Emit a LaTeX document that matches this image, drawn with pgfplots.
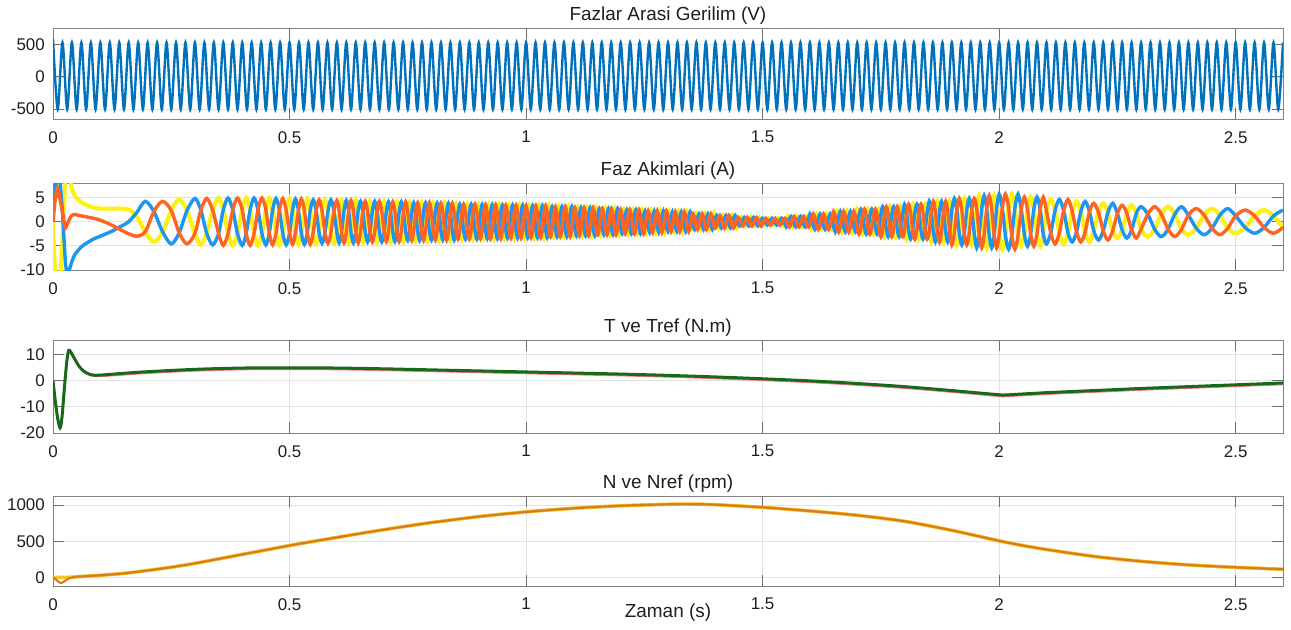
\documentclass[border=0pt]{standalone}
\usepackage{pgfplots}
\usepackage{pgfplotstable}
\pgfplotsset{compat=1.18}
\usepackage{fontspec}
\setmainfont{Liberation Sans}

\definecolor{voltblue}{RGB}{0,114,189}
\definecolor{curblue}{RGB}{28,150,240}
\definecolor{curorange}{RGB}{255,100,35}
\definecolor{curyellow}{RGB}{255,240,20}
\definecolor{tgreen}{RGB}{25,105,25}
\definecolor{tpink}{RGB}{240,120,140}
\definecolor{norange}{RGB}{217,126,20}
\definecolor{nyellow}{RGB}{245,195,40}
\definecolor{boxgray}{RGB}{130,130,130}
\definecolor{tickgray}{RGB}{110,110,110}
\definecolor{gridgray}{RGB}{226,226,226}
\definecolor{labgray}{RGB}{30,30,30}

\pgfplotsset{
  mlab/.style={
    scale only axis, width=1230bp, anchor=south west,
    xmin=0, xmax=2.6,
    xtick={0,0.5,1,1.5,2,2.5}, xticklabels={0,0.5,1,1.5,2,2.5},
    grid=major, major grid style={draw=gridgray, line width=0.7bp},
    axis line style={draw=boxgray, line width=0.8bp},
    tick style={draw=tickgray, line width=0.8bp},
    major tick length=11bp, tick align=inside,
    /pgf/number format/assume math mode=true,
    ticklabel style={font=\fontsize{17}{20}\selectfont, text=labgray},
    xticklabel style={anchor=north, inner sep=0pt, yshift=-12bp},
    yticklabel style={anchor=east, inner sep=0pt, xshift=-8bp},
    title style={font=\fontsize{19}{22}\selectfont, text=labgray, at={(0.5,1)}, anchor=base, yshift=2bp, inner sep=0pt},
  }
}

\pgfplotstableread{
t b o y
0.000 0 0 0
0.004 6 4 -10
0.010 10.5 7 -17.5
0.015 8 4.5 -12.5
0.020 2 2 -4
0.026 -8 -1.2 9.2
0.030 -10.5 -0.5 11
0.035 -9.8 0.6 9.2
0.040 -8.2 1.3 6.9
0.045 -7.0 1.5 5.5
0.050 -6.3 1.4 4.9
0.060 -5.2 1.2 4.0
0.070 -4.5 1.0 3.5
0.080 -3.9 0.8 3.1
0.090 -3.4 0.6 2.8
0.100 -3.0 0.3 2.7
0.115 -2.4 -0.3 2.7
0.130 -1.7 -1.0 2.7
0.145 -0.9 -1.8 2.7
0.160 0.0 -2.5 2.5
0.177 1.9 -3.0 1.1
0.1950 4.2 -2.1 -2.1
0.2133 2.1 2.1 -4.2
0.2317 -2.1 4.2 -2.1
0.2500 -4.6 2.3 2.3
0.2667 -2.3 -2.3 4.6
0.2833 2.3 -4.6 2.3
0.3000 4.8 -2.4 -2.4
0.3125 2.4 2.4 -4.8
0.3250 -2.4 4.8 -2.4
0.3375 -4.8 2.4 2.4
0.3500 -2.45 -2.45 4.9
0.3600 2.45 -4.9 2.45
0.3700 4.9 -2.45 -2.45
0.3800 2.45 2.45 -4.9
0.3900 -2.45 4.9 -2.45
0.4000 -4.9 2.45 2.45
0.4083 -2.45 -2.45 4.9
0.4167 2.45 -4.9 2.45
0.4250 4.9 -2.45 -2.45
0.4333 2.45 2.45 -4.9
0.4417 -2.45 4.9 -2.45
0.4500 -4.8 2.4 2.4
0.4571 -2.4 -2.4 4.8
0.4643 2.4 -4.8 2.4
0.4714 4.8 -2.4 -2.4
0.4786 2.4 2.4 -4.8
0.4857 -2.4 4.8 -2.4
0.4929 -4.8 2.4 2.4
0.5000 -2.35 -2.35 4.7
0.5063 2.35 -4.7 2.35
0.5125 4.7 -2.35 -2.35
0.5188 2.35 2.35 -4.7
0.5250 -2.35 4.7 -2.35
0.5313 -4.7 2.35 2.35
0.5375 -2.35 -2.35 4.7
0.5438 2.35 -4.7 2.35
0.5500 4.5 -2.25 -2.25
0.5563 2.25 2.25 -4.5
0.5625 -2.25 4.5 -2.25
0.5688 -4.5 2.25 2.25
0.5750 -2.25 -2.25 4.5
0.5813 2.25 -4.5 2.25
0.5875 4.5 -2.25 -2.25
0.5938 2.25 2.25 -4.5
0.600 -2.2 4.4 -2.2
0.605 -4.4 2.2 2.2
0.610 -2.2 -2.2 4.4
0.615 2.2 -4.4 2.2
0.620 4.4 -2.2 -2.2
0.625 2.2 2.2 -4.4
0.630 -2.2 4.4 -2.2
0.635 -4.4 2.2 2.2
0.640 -2.2 -2.2 4.4
0.645 2.2 -4.4 2.2
0.650 4.2 -2.1 -2.1
0.655 2.1 2.1 -4.2
0.660 -2.1 4.2 -2.1
0.665 -4.2 2.1 2.1
0.670 -2.1 -2.1 4.2
0.675 2.1 -4.2 2.1
0.680 4.2 -2.1 -2.1
0.685 2.1 2.1 -4.2
0.690 -2.1 4.2 -2.1
0.695 -4.2 2.1 2.1
0.7000 -2.05 -2.05 4.1
0.7045 2.05 -4.1 2.05
0.7091 4.1 -2.05 -2.05
0.7136 2.05 2.05 -4.1
0.7182 -2.05 4.1 -2.05
0.7227 -4.1 2.05 2.05
0.7273 -2.05 -2.05 4.1
0.7318 2.05 -4.1 2.05
0.7364 4.1 -2.05 -2.05
0.7409 2.05 2.05 -4.1
0.7455 -2.05 4.1 -2.05
0.7500 -3.9 1.95 1.95
0.7542 -1.95 -1.95 3.9
0.7583 1.95 -3.9 1.95
0.7625 3.9 -1.95 -1.95
0.7667 1.95 1.95 -3.9
0.7708 -1.95 3.9 -1.95
0.7750 -3.9 1.95 1.95
0.7792 -1.95 -1.95 3.9
0.7833 1.95 -3.9 1.95
0.7875 3.9 -1.95 -1.95
0.7917 1.95 1.95 -3.9
0.7958 -1.95 3.9 -1.95
0.800 -3.8 1.9 1.9
0.804 -1.9 -1.9 3.8
0.808 1.9 -3.8 1.9
0.812 3.8 -1.9 -1.9
0.816 1.9 1.9 -3.8
0.820 -1.9 3.8 -1.9
0.824 -3.8 1.9 1.9
0.828 -1.9 -1.9 3.8
0.832 1.9 -3.8 1.9
0.836 3.8 -1.9 -1.9
0.840 1.9 1.9 -3.8
0.844 -1.9 3.8 -1.9
0.848 -3.8 1.9 1.9
0.852 -1.8 -1.8 3.6
0.856 1.8 -3.6 1.8
0.860 3.6 -1.8 -1.8
0.864 1.8 1.8 -3.6
0.868 -1.8 3.6 -1.8
0.872 -3.6 1.8 1.8
0.876 -1.8 -1.8 3.6
0.880 1.8 -3.6 1.8
0.884 3.6 -1.8 -1.8
0.888 1.8 1.8 -3.6
0.892 -1.8 3.6 -1.8
0.896 -3.6 1.8 1.8
0.9000 -1.75 -1.75 3.5
0.9036 1.75 -3.5 1.75
0.9071 3.5 -1.75 -1.75
0.9107 1.75 1.75 -3.5
0.9143 -1.75 3.5 -1.75
0.9179 -3.5 1.75 1.75
0.9214 -1.75 -1.75 3.5
0.9250 1.75 -3.5 1.75
0.9286 3.5 -1.75 -1.75
0.9321 1.75 1.75 -3.5
0.9357 -1.75 3.5 -1.75
0.9393 -3.5 1.75 1.75
0.9429 -1.75 -1.75 3.5
0.9464 1.75 -3.5 1.75
0.9500 3.4 -1.7 -1.7
0.9536 1.7 1.7 -3.4
0.9571 -1.7 3.4 -1.7
0.9607 -3.4 1.7 1.7
0.9643 -1.7 -1.7 3.4
0.9679 1.7 -3.4 1.7
0.9714 3.4 -1.7 -1.7
0.9750 1.7 1.7 -3.4
0.9786 -1.7 3.4 -1.7
0.9821 -3.4 1.7 1.7
0.9857 -1.7 -1.7 3.4
0.9893 1.7 -3.4 1.7
0.9929 3.4 -1.7 -1.7
0.9964 1.7 1.7 -3.4
1.0000 -1.65 3.3 -1.65
1.0034 -3.3 1.65 1.65
1.0069 -1.65 -1.65 3.3
1.0103 1.65 -3.3 1.65
1.0138 3.3 -1.65 -1.65
1.0172 1.65 1.65 -3.3
1.0207 -1.65 3.3 -1.65
1.0241 -3.3 1.65 1.65
1.0276 -1.65 -1.65 3.3
1.0310 1.65 -3.3 1.65
1.0345 3.3 -1.65 -1.65
1.0379 1.65 1.65 -3.3
1.0414 -1.65 3.3 -1.65
1.0448 -3.3 1.65 1.65
1.0483 -1.65 -1.65 3.3
1.0517 1.55 -3.1 1.55
1.0552 3.1 -1.55 -1.55
1.0586 1.55 1.55 -3.1
1.0621 -1.55 3.1 -1.55
1.0655 -3.1 1.55 1.55
1.0690 -1.55 -1.55 3.1
1.0724 1.55 -3.1 1.55
1.0759 3.1 -1.55 -1.55
1.0793 1.55 1.55 -3.1
1.0828 -1.55 3.1 -1.55
1.0862 -3.1 1.55 1.55
1.0897 -1.55 -1.55 3.1
1.0931 1.55 -3.1 1.55
1.0966 3.1 -1.55 -1.55
1.1000 1.45 1.45 -2.9
1.1032 -1.45 2.9 -1.45
1.1065 -2.9 1.45 1.45
1.1097 -1.45 -1.45 2.9
1.1129 1.45 -2.9 1.45
1.1161 2.9 -1.45 -1.45
1.1194 1.45 1.45 -2.9
1.1226 -1.45 2.9 -1.45
1.1258 -2.9 1.45 1.45
1.1290 -1.45 -1.45 2.9
1.1323 1.45 -2.9 1.45
1.1355 2.9 -1.45 -1.45
1.1387 1.45 1.45 -2.9
1.1419 -1.45 2.9 -1.45
1.1452 -2.9 1.45 1.45
1.1484 -1.45 -1.45 2.9
1.1516 1.35 -2.7 1.35
1.1548 2.7 -1.35 -1.35
1.1581 1.35 1.35 -2.7
1.1613 -1.35 2.7 -1.35
1.1645 -2.7 1.35 1.35
1.1677 -1.35 -1.35 2.7
1.1710 1.35 -2.7 1.35
1.1742 2.7 -1.35 -1.35
1.1774 1.35 1.35 -2.7
1.1806 -1.35 2.7 -1.35
1.1839 -2.7 1.35 1.35
1.1871 -1.35 -1.35 2.7
1.1903 1.35 -2.7 1.35
1.1935 2.7 -1.35 -1.35
1.1968 1.35 1.35 -2.7
1.2000 -1.25 2.5 -1.25
1.2032 -2.5 1.25 1.25
1.2065 -1.25 -1.25 2.5
1.2097 1.25 -2.5 1.25
1.2129 2.5 -1.25 -1.25
1.2161 1.25 1.25 -2.5
1.2194 -1.25 2.5 -1.25
1.2226 -2.5 1.25 1.25
1.2258 -1.25 -1.25 2.5
1.2290 1.25 -2.5 1.25
1.2323 2.5 -1.25 -1.25
1.2355 1.25 1.25 -2.5
1.2387 -1.25 2.5 -1.25
1.2419 -2.5 1.25 1.25
1.2452 -1.25 -1.25 2.5
1.2484 1.25 -2.5 1.25
1.2516 2.2 -1.1 -1.1
1.2548 1.1 1.1 -2.2
1.2581 -1.1 2.2 -1.1
1.2613 -2.2 1.1 1.1
1.2645 -1.1 -1.1 2.2
1.2677 1.1 -2.2 1.1
1.2710 2.2 -1.1 -1.1
1.2742 1.1 1.1 -2.2
1.2774 -1.1 2.2 -1.1
1.2806 -2.2 1.1 1.1
1.2839 -1.1 -1.1 2.2
1.2871 1.1 -2.2 1.1
1.2903 2.2 -1.1 -1.1
1.2935 1.1 1.1 -2.2
1.2968 -1.1 2.2 -1.1
1.3000 -2 1 1
1.3031 -1 -1 2
1.3063 1 -2 1
1.3094 2 -1 -1
1.3125 1 1 -2
1.3156 -1 2 -1
1.3188 -2 1 1
1.3219 -1 -1 2
1.3250 1 -2 1
1.3281 2 -1 -1
1.3313 1 1 -2
1.3344 -1 2 -1
1.3375 -2 1 1
1.3406 -1 -1 2
1.3438 1 -2 1
1.3469 2 -1 -1
1.3500 0.8 0.8 -1.6
1.3531 -0.8 1.6 -0.8
1.3563 -1.6 0.8 0.8
1.3594 -0.8 -0.8 1.6
1.3625 0.8 -1.6 0.8
1.3656 1.6 -0.8 -0.8
1.3688 0.8 0.8 -1.6
1.3719 -0.8 1.6 -0.8
1.3750 -1.6 0.8 0.8
1.3781 -0.8 -0.8 1.6
1.3813 0.8 -1.6 0.8
1.3844 1.6 -0.8 -0.8
1.3875 0.8 0.8 -1.6
1.3906 -0.8 1.6 -0.8
1.3938 -1.6 0.8 0.8
1.3969 -0.8 -0.8 1.6
1.4000 0.65 -1.3 0.65
1.4032 1.3 -0.65 -0.65
1.4065 0.65 0.65 -1.3
1.4097 -0.65 1.3 -0.65
1.4129 -1.3 0.65 0.65
1.4161 -0.65 -0.65 1.3
1.4194 0.65 -1.3 0.65
1.4226 1.3 -0.65 -0.65
1.4258 0.65 0.65 -1.3
1.4290 -0.65 1.3 -0.65
1.4323 -1.3 0.65 0.65
1.4355 -0.65 -0.65 1.3
1.4387 0.65 -1.3 0.65
1.4419 1.3 -0.65 -0.65
1.4452 0.65 0.65 -1.3
1.4484 -0.45 0.9 -0.45
1.4516 -0.9 0.45 0.45
1.4548 -0.45 -0.45 0.9
1.4581 0.45 -0.9 0.45
1.4613 0.9 -0.45 -0.45
1.4645 0.45 0.45 -0.9
1.4677 -0.45 0.9 -0.45
1.4710 -0.9 0.45 0.45
1.4742 -0.45 -0.45 0.9
1.4774 0.45 -0.9 0.45
1.4806 0.9 -0.45 -0.45
1.4839 0.45 0.45 -0.9
1.4871 -0.45 0.9 -0.45
1.4903 -0.9 0.45 0.45
1.4935 -0.45 -0.45 0.9
1.4968 0.45 -0.9 0.45
1.5000 0.7 -0.35 -0.35
1.5033 0.35 0.35 -0.7
1.5067 -0.35 0.7 -0.35
1.5100 -0.7 0.35 0.35
1.5133 -0.35 -0.35 0.7
1.5167 0.35 -0.7 0.35
1.5200 0.7 -0.35 -0.35
1.5233 0.35 0.35 -0.7
1.5267 -0.35 0.7 -0.35
1.5300 -0.7 0.35 0.35
1.5333 -0.35 -0.35 0.7
1.5367 0.35 -0.7 0.35
1.5400 0.7 -0.35 -0.35
1.5433 0.35 0.35 -0.7
1.5467 -0.35 0.7 -0.35
1.5500 -1.1 0.55 0.55
1.5533 -0.55 -0.55 1.1
1.5567 0.55 -1.1 0.55
1.5600 1.1 -0.55 -0.55
1.5633 0.55 0.55 -1.1
1.5667 -0.55 1.1 -0.55
1.5700 -1.1 0.55 0.55
1.5733 -0.55 -0.55 1.1
1.5767 0.55 -1.1 0.55
1.5800 1.1 -0.55 -0.55
1.5833 0.55 0.55 -1.1
1.5867 -0.55 1.1 -0.55
1.5900 -1.1 0.55 0.55
1.5933 -0.55 -0.55 1.1
1.5967 0.55 -1.1 0.55
1.6000 1.6 -0.8 -0.8
1.6036 0.8 0.8 -1.6
1.6071 -0.8 1.6 -0.8
1.6107 -1.6 0.8 0.8
1.6143 -0.8 -0.8 1.6
1.6179 0.8 -1.6 0.8
1.6214 1.6 -0.8 -0.8
1.6250 0.8 0.8 -1.6
1.6286 -0.8 1.6 -0.8
1.6321 -1.6 0.8 0.8
1.6357 -0.8 -0.8 1.6
1.6393 0.8 -1.6 0.8
1.6429 1.6 -0.8 -0.8
1.6464 0.8 0.8 -1.6
1.6500 -1.05 2.1 -1.05
1.6536 -2.1 1.05 1.05
1.6571 -1.05 -1.05 2.1
1.6607 1.05 -2.1 1.05
1.6643 2.1 -1.05 -1.05
1.6679 1.05 1.05 -2.1
1.6714 -1.05 2.1 -1.05
1.6750 -2.1 1.05 1.05
1.6786 -1.05 -1.05 2.1
1.6821 1.05 -2.1 1.05
1.6857 2.1 -1.05 -1.05
1.6893 1.05 1.05 -2.1
1.6929 -1.05 2.1 -1.05
1.6964 -2.1 1.05 1.05
1.7000 -1.3 -1.3 2.6
1.7038 1.3 -2.6 1.3
1.7077 2.6 -1.3 -1.3
1.7115 1.3 1.3 -2.6
1.7154 -1.3 2.6 -1.3
1.7192 -2.6 1.3 1.3
1.7231 -1.3 -1.3 2.6
1.7269 1.3 -2.6 1.3
1.7308 2.6 -1.3 -1.3
1.7346 1.3 1.3 -2.6
1.7385 -1.3 2.6 -1.3
1.7423 -2.6 1.3 1.3
1.7462 -1.3 -1.3 2.6
1.7500 1.55 -3.1 1.55
1.7538 3.1 -1.55 -1.55
1.7577 1.55 1.55 -3.1
1.7615 -1.55 3.1 -1.55
1.7654 -3.1 1.55 1.55
1.7692 -1.55 -1.55 3.1
1.7731 1.55 -3.1 1.55
1.7769 3.1 -1.55 -1.55
1.7808 1.55 1.55 -3.1
1.7846 -1.55 3.1 -1.55
1.7885 -3.1 1.55 1.55
1.7923 -1.55 -1.55 3.1
1.7962 1.55 -3.1 1.55
1.8000 3.6 -1.8 -1.8
1.8043 1.8 1.8 -3.6
1.8087 -1.8 3.6 -1.8
1.8130 -3.6 1.8 1.8
1.8174 -1.8 -1.8 3.6
1.8217 1.8 -3.6 1.8
1.8261 3.6 -1.8 -1.8
1.8304 1.8 1.8 -3.6
1.8348 -1.8 3.6 -1.8
1.8391 -3.6 1.8 1.8
1.8435 -1.8 -1.8 3.6
1.8478 1.8 -3.6 1.8
1.8522 4.2 -2.1 -2.1
1.8565 2.1 2.1 -4.2
1.8609 -2.1 4.2 -2.1
1.8652 -4.2 2.1 2.1
1.8696 -2.1 -2.1 4.2
1.8739 2.1 -4.2 2.1
1.8783 4.2 -2.1 -2.1
1.8826 2.1 2.1 -4.2
1.8870 -2.1 4.2 -2.1
1.8913 -4.2 2.1 2.1
1.8957 -2.1 -2.1 4.2
1.9000 2.4 -4.8 2.4
1.9053 4.8 -2.4 -2.4
1.9105 2.4 2.4 -4.8
1.9158 -2.4 4.8 -2.4
1.9211 -4.8 2.4 2.4
1.9263 -2.4 -2.4 4.8
1.9316 2.4 -4.8 2.4
1.9368 4.8 -2.4 -2.4
1.9421 2.4 2.4 -4.8
1.9474 -2.4 4.8 -2.4
1.9526 -5.4 2.7 2.7
1.9579 -2.7 -2.7 5.4
1.9632 2.7 -5.4 2.7
1.9684 5.4 -2.7 -2.7
1.9737 2.7 2.7 -5.4
1.9789 -2.7 5.4 -2.7
1.9842 -5.4 2.7 2.7
1.9895 -2.7 -2.7 5.4
1.9947 2.7 -5.4 2.7
2.0000 5.7 -2.85 -2.85
2.0067 2.85 2.85 -5.7
2.0133 -2.85 5.7 -2.85
2.0200 -5.7 2.85 2.85
2.0267 -2.85 -2.85 5.7
2.0333 2.85 -5.7 2.85
2.0400 5.7 -2.85 -2.85
2.0467 2.55 2.55 -5.1
2.0533 -2.55 5.1 -2.55
2.0600 -5.1 2.55 2.55
2.0667 -2.55 -2.55 5.1
2.0733 2.55 -5.1 2.55
2.0800 5.1 -2.55 -2.55
2.0867 2.55 2.55 -5.1
2.0933 -2.55 5.1 -2.55
2.1000 -4.6 2.3 2.3
2.1091 -2.3 -2.3 4.6
2.1182 2.3 -4.6 2.3
2.1273 4.6 -2.3 -2.3
2.1364 2.3 2.3 -4.6
2.1455 -2.3 4.6 -2.3
2.1545 -4.2 2.1 2.1
2.1636 -2.1 -2.1 4.2
2.1727 2.1 -4.2 2.1
2.1818 4.2 -2.1 -2.1
2.1909 2.1 2.1 -4.2
2.20 -1.9 3.8 -1.9
2.21 -3.8 1.9 1.9
2.22 -1.9 -1.9 3.8
2.23 1.9 -3.8 1.9
2.24 3.8 -1.9 -1.9
2.25 1.7 1.7 -3.4
2.26 -1.7 3.4 -1.7
2.27 -3.4 1.7 1.7
2.28 -1.7 -1.7 3.4
2.29 1.7 -3.4 1.7
2.3000 3.1 -1.55 -1.55
2.3143 1.55 1.55 -3.1
2.3286 -1.55 3.1 -1.55
2.3429 -3.1 1.55 1.55
2.3571 -1.55 -1.55 3.1
2.3714 1.55 -3.1 1.55
2.3857 3.1 -1.55 -1.55
2.4000 1.35 1.35 -2.7
2.4167 -1.35 2.7 -1.35
2.4333 -2.7 1.35 1.35
2.4500 -1.35 -1.35 2.7
2.4667 1.35 -2.7 1.35
2.4833 2.7 -1.35 -1.35
2.50 1.2 1.2 -2.4
2.52 -1.2 2.4 -1.2
2.54 -2.4 1.2 1.2
2.56 -1.2 -1.2 2.4
2.58 1.2 -2.4 1.2
2.60 2.4 -1.2 -1.2
}\curtable

\begin{document}
\begin{tikzpicture}
\useasboundingbox (0,0) rectangle (1291bp,-630bp);

% ---------- Axis 1: line voltage ----------
\begin{axis}[mlab, at={(53bp,-119bp)}, height=91bp,
  ymin=-656, ymax=761, ytick={-500,0,500}, yticklabels={-500,0,500},
  title={Fazlar Arasi Gerilim (V)}]
\addplot[voltblue, line width=2.4bp, smooth] coordinates {
(0,590)(0.01,-505)(0.02,535)(0.03,-505)(0.04,535)(0.05,-505)(0.06,535)(0.07,-505)(0.08,535)(0.09,-505)
(0.10,535)(0.11,-505)(0.12,535)(0.13,-505)(0.14,535)(0.15,-505)(0.16,535)(0.17,-505)(0.18,535)(0.19,-505)
(0.20,535)(0.21,-505)(0.22,535)(0.23,-505)(0.24,535)(0.25,-505)(0.26,535)(0.27,-505)(0.28,535)(0.29,-505)
(0.30,535)(0.31,-505)(0.32,535)(0.33,-505)(0.34,535)(0.35,-505)(0.36,535)(0.37,-505)(0.38,535)(0.39,-505)
(0.40,535)(0.41,-505)(0.42,535)(0.43,-505)(0.44,535)(0.45,-505)(0.46,535)(0.47,-505)(0.48,535)(0.49,-505)
(0.50,535)(0.51,-505)(0.52,535)(0.53,-505)(0.54,535)(0.55,-505)(0.56,535)(0.57,-505)(0.58,535)(0.59,-505)
(0.60,535)(0.61,-505)(0.62,535)(0.63,-505)(0.64,535)(0.65,-505)(0.66,535)(0.67,-505)(0.68,535)(0.69,-505)
(0.70,535)(0.71,-505)(0.72,535)(0.73,-505)(0.74,535)(0.75,-505)(0.76,535)(0.77,-505)(0.78,535)(0.79,-505)
(0.80,535)(0.81,-505)(0.82,535)(0.83,-505)(0.84,535)(0.85,-505)(0.86,535)(0.87,-505)(0.88,535)(0.89,-505)
(0.90,535)(0.91,-505)(0.92,535)(0.93,-505)(0.94,535)(0.95,-505)(0.96,535)(0.97,-505)(0.98,535)(0.99,-505)
(1.00,535)(1.01,-505)(1.02,535)(1.03,-505)(1.04,535)(1.05,-505)(1.06,535)(1.07,-505)(1.08,535)(1.09,-505)
(1.10,535)(1.11,-505)(1.12,535)(1.13,-505)(1.14,535)(1.15,-505)(1.16,535)(1.17,-505)(1.18,535)(1.19,-505)
(1.20,535)(1.21,-505)(1.22,535)(1.23,-505)(1.24,535)(1.25,-505)(1.26,535)(1.27,-505)(1.28,535)(1.29,-505)
(1.30,535)(1.31,-505)(1.32,535)(1.33,-505)(1.34,535)(1.35,-505)(1.36,535)(1.37,-505)(1.38,535)(1.39,-505)
(1.40,535)(1.41,-505)(1.42,535)(1.43,-505)(1.44,535)(1.45,-505)(1.46,535)(1.47,-505)(1.48,535)(1.49,-505)
(1.50,535)(1.51,-505)(1.52,535)(1.53,-505)(1.54,535)(1.55,-505)(1.56,535)(1.57,-505)(1.58,535)(1.59,-505)
(1.60,535)(1.61,-505)(1.62,535)(1.63,-505)(1.64,535)(1.65,-505)(1.66,535)(1.67,-505)(1.68,535)(1.69,-505)
(1.70,535)(1.71,-505)(1.72,535)(1.73,-505)(1.74,535)(1.75,-505)(1.76,535)(1.77,-505)(1.78,535)(1.79,-505)
(1.80,535)(1.81,-505)(1.82,535)(1.83,-505)(1.84,535)(1.85,-505)(1.86,535)(1.87,-505)(1.88,535)(1.89,-505)
(1.90,535)(1.91,-505)(1.92,535)(1.93,-505)(1.94,535)(1.95,-505)(1.96,535)(1.97,-505)(1.98,535)(1.99,-505)
(2.00,535)(2.01,-505)(2.02,535)(2.03,-505)(2.04,535)(2.05,-505)(2.06,535)(2.07,-505)(2.08,535)(2.09,-505)
(2.10,535)(2.11,-505)(2.12,535)(2.13,-505)(2.14,535)(2.15,-505)(2.16,535)(2.17,-505)(2.18,535)(2.19,-505)
(2.20,535)(2.21,-505)(2.22,535)(2.23,-505)(2.24,535)(2.25,-505)(2.26,535)(2.27,-505)(2.28,535)(2.29,-505)
(2.30,535)(2.31,-505)(2.32,535)(2.33,-505)(2.34,535)(2.35,-505)(2.36,535)(2.37,-505)(2.38,535)(2.39,-505)
(2.40,535)(2.41,-505)(2.42,535)(2.43,-505)(2.44,535)(2.45,-505)(2.46,535)(2.47,-505)(2.48,535)(2.49,-505)
(2.50,535)(2.51,-505)(2.52,535)(2.53,-505)(2.54,535)(2.55,-505)(2.56,535)(2.57,-505)(2.58,535)(2.59,-505)
(2.60,535)
};
\end{axis}

% ---------- Axis 2: phase currents ----------
\begin{axis}[mlab, at={(53bp,-270bp)}, height=87bp,
  ymin=-10, ymax=8, ytick={-10,-5,0,5}, yticklabels={-10,-5,0,5},
  title={Faz Akimlari (A)}]
\addplot[curyellow, line width=4.2bp, smooth] table[x=t, y=y] {\curtable};
\addplot[curblue, line width=3.4bp, smooth] table[x=t, y=b] {\curtable};
\addplot[curorange, line width=3.4bp, smooth] table[x=t, y=o] {\curtable};
\end{axis}

% ---------- Axis 3: torque ----------
\begin{axis}[mlab, at={(53bp,-433bp)}, height=93bp,
  ymin=-20, ymax=15.5, ytick={-20,-10,0,10}, yticklabels={-20,-10,0,10},
  title={T ve Tref (N.m)}]
\addplot[tpink, line width=2bp, smooth] coordinates {
(0,0)(0.005,-8)(0.01,-14.5)(0.015,-18)(0.019,-14)(0.024,-3)(0.029,7)(0.033,11.5)(0.038,10.8)
(0.045,8.5)(0.055,5.5)(0.065,3.6)(0.075,2.5)(0.085,1.8)(0.1,1.7)(0.15,2.3)(0.2,2.9)(0.3,3.8)
(0.4,4.3)(0.5,4.4)(0.6,4.3)(0.7,4.0)(0.8,3.6)(0.9,3.2)(1.0,2.8)(1.1,2.4)(1.2,2.0)(1.3,1.5)
(1.4,0.9)(1.5,0.2)(1.6,-0.6)(1.7,-1.6)(1.8,-2.8)(1.9,-4.3)(2.0,-5.9)(2.01,-6.0)(2.05,-5.6)
(2.1,-5.1)(2.2,-4.3)(2.3,-3.5)(2.4,-2.8)(2.5,-2.1)(2.6,-1.4)
};
\addplot[tgreen, line width=3bp, smooth] coordinates {
(0,0)(0.005,-8)(0.01,-14.5)(0.015,-18)(0.019,-14)(0.024,-3)(0.029,7)(0.033,11.5)(0.038,10.8)
(0.045,8.5)(0.055,5.5)(0.065,3.6)(0.075,2.6)(0.085,2.1)(0.1,2.1)(0.15,2.8)(0.2,3.4)(0.3,4.3)
(0.4,4.8)(0.5,4.9)(0.6,4.8)(0.7,4.5)(0.8,4.1)(0.9,3.7)(1.0,3.3)(1.1,2.9)(1.2,2.5)(1.3,2.0)
(1.4,1.4)(1.5,0.7)(1.6,-0.1)(1.7,-1.1)(1.8,-2.3)(1.9,-3.8)(2.0,-5.4)(2.01,-5.5)(2.05,-5.1)
(2.1,-4.6)(2.2,-3.8)(2.3,-3.0)(2.4,-2.3)(2.5,-1.6)(2.6,-0.9)
};
\end{axis}

% ---------- Axis 4: speed ----------
\begin{axis}[mlab, at={(53bp,-586bp)}, height=90bp,
  ymin=-120, ymax=1125, ytick={0,500,1000}, yticklabels={0,500,1000},
  title={N ve Nref (rpm)},
  xlabel={Zaman (s)},
  xlabel style={font=\fontsize{19}{22}\selectfont, text=labgray, at={(0.5,0)}, anchor=center, yshift=-27bp, inner sep=0pt}]
\addplot[nyellow, line width=3.6bp, smooth] coordinates {
(0,0)(0.01,0)(0.02,0)(0.03,0)(0.04,2)(0.05,8)(0.07,16)(0.1,28)(0.15,55)(0.2,95)(0.25,140)
(0.3,193)(0.35,255)(0.4,317)(0.45,378)(0.5,440)(0.55,497)(0.6,552)(0.65,607)(0.7,660)
(0.75,710)(0.8,757)(0.9,840)(1.0,905)(1.1,955)(1.2,990)(1.3,1010)(1.35,1012)(1.4,1005)
(1.5,968)(1.6,918)(1.7,858)(1.8,775)(1.9,650)(2.0,505)(2.05,440)(2.1,385)(2.2,290)
(2.3,222)(2.4,172)(2.5,138)(2.6,112)
};
\addplot[norange, line width=2.2bp, smooth] coordinates {
(0,0)(0.008,-40)(0.016,-80)(0.024,-55)(0.032,-20)(0.04,-2)(0.05,8)(0.07,16)(0.1,28)(0.15,55)
(0.2,95)(0.25,140)(0.3,193)(0.35,255)(0.4,317)(0.45,378)(0.5,440)(0.55,497)(0.6,552)
(0.65,607)(0.7,660)(0.75,710)(0.8,757)(0.9,840)(1.0,905)(1.1,955)(1.2,990)(1.3,1010)
(1.35,1012)(1.4,1005)(1.5,968)(1.6,918)(1.7,858)(1.8,775)(1.9,650)(2.0,505)(2.05,440)
(2.1,385)(2.2,290)(2.3,222)(2.4,172)(2.5,138)(2.6,112)
};
\end{axis}
\end{tikzpicture}
\end{document}
